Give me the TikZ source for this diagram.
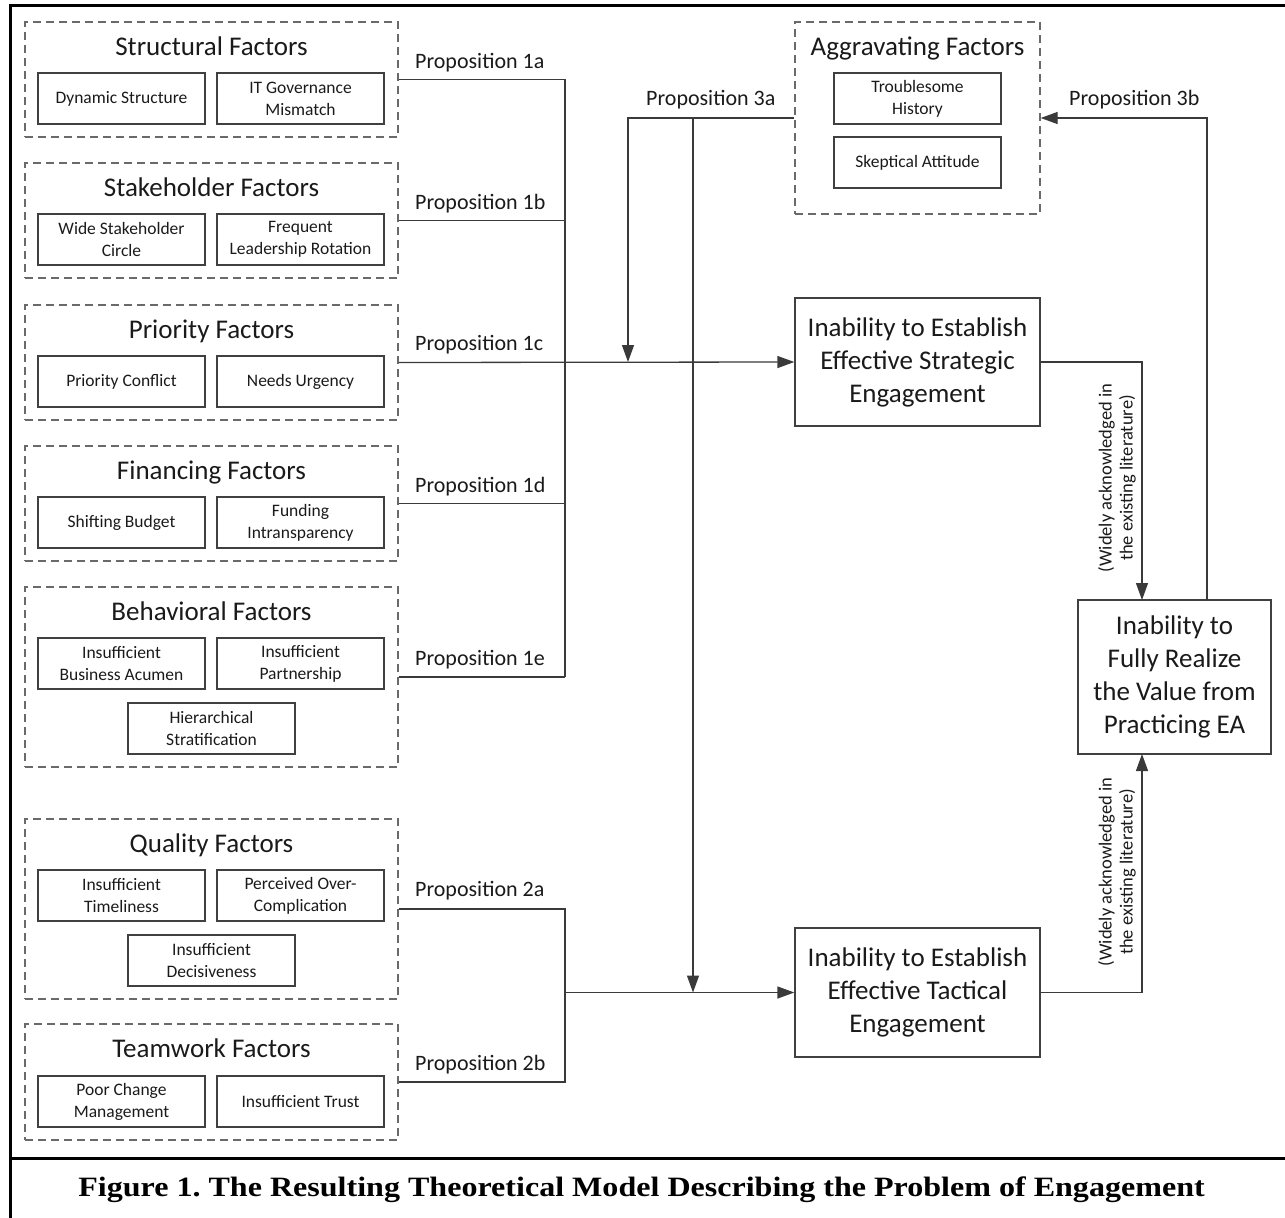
\documentclass[tikz,border=0pt]{standalone}
\usepackage{graphicx}
\usepackage{fontspec}
\setmainfont{Carlito}
\newfontfamily\capfont{Liberation Serif}
\usetikzlibrary{arrows.meta}
\definecolor{boxgray}{HTML}{404040}
\definecolor{dashgray}{HTML}{6A6A6A}
\definecolor{linegray}{HTML}{3A3A3A}
\definecolor{txt}{HTML}{1A1A1A}
\frenchspacing
\begin{document}
\begin{tikzpicture}[x=1pt,y=-1pt,
  text=txt,
  grp/.style={draw=dashgray, line width=1.3pt, dash pattern=on 8pt off 5pt, minimum width=373pt, inner sep=0pt},
  agrp/.style={grp, minimum width=245pt},
  ibox/.style={draw=boxgray, line width=1.3pt, minimum width=167pt, minimum height=51pt, align=center, inner sep=0pt, font=\fontsize{17.5}{22}\selectfont},
  gtitle/.style={anchor=base, inner sep=0pt, font=\fontsize{27}{32}\selectfont},
  prop/.style={anchor=base west, inner sep=0pt, font=\fontsize{22}{26}\selectfont},
  bigbox/.style={draw=boxgray, line width=1.3pt, align=center, inner sep=0pt, font=\fontsize{27}{33}\selectfont},
  conn/.style={draw=linegray, line width=1.3pt},
  arr/.style={conn, -{Triangle[length=17pt,width=12pt]}},
  rlabel/.style={rotate=90, align=center, inner sep=0pt, font=\fontsize{18.5}{21}\selectfont}
]
\useasboundingbox (0,0) rectangle (1285,1218);
% frame
\draw[line width=3pt,black] (10,1218) -- (10,5) -- (1285,5);
\draw[line width=3pt,black] (10,1158) -- (1285,1158);

% Structural
\node[grp, minimum height=115pt] (S) at (211.5,79.5) {};
\node[gtitle] (St) at (211.5,55) {Structural Factors};
\node[ibox] (S1) at (121.5,98.5) {Dynamic Structure};
\node[ibox] (S2) at (300.5,98.5) {IT Governance\\Mismatch};
% Stakeholder
\node[grp, minimum height=115pt] (K) at (211.5,220.5) {};
\node[gtitle] (Kt) at (211.5,196) {Stakeholder Factors};
\node[ibox] (K1) at (121.5,239.5) {Wide Stakeholder\\Circle};
\node[ibox] (K2) at (300.5,239.5) {Frequent\\Leadership Rotation};
% Priority
\node[grp, minimum height=115pt] (P) at (211.5,362.5) {};
\node[gtitle] (Pt) at (211.5,338) {Priority Factors};
\node[ibox] (P1) at (121.5,381.5) {Priority Conflict};
\node[ibox] (P2) at (300.5,381.5) {Needs Urgency};
% Financing
\node[grp, minimum height=115pt] (F) at (211.5,503.5) {};
\node[gtitle] (Ft) at (211.5,479) {Financing Factors};
\node[ibox] (F1) at (121.5,522.5) {Shifting Budget};
\node[ibox] (F2) at (300.5,522.5) {Funding\\Intransparency};
% Behavioral
\node[grp, minimum height=180pt] (B) at (211.5,677) {};
\node[gtitle] (Bt) at (211.5,620) {Behavioral Factors};
\node[ibox] (B1) at (121.5,663.5) {Insufficient\\Business Acumen};
\node[ibox] (B2) at (300.5,663.5) {Insufficient\\Partnership};
\node[ibox] (B3) at (211.5,728.5) {Hierarchical\\Stratification};
% Quality
\node[grp, minimum height=180pt] (Q) at (211.5,909) {};
\node[gtitle] (Qt) at (211.5,852) {Quality Factors};
\node[ibox] (Q1) at (121.5,895.5) {Insufficient\\Timeliness};
\node[ibox] (Q2) at (300.5,895.5) {Perceived Over-\\Complication};
\node[ibox] (Q3) at (211.5,960.5) {Insufficient\\Decisiveness};
% Teamwork
\node[grp, minimum height=116pt] (T) at (211.5,1082) {};
\node[gtitle] (Tt) at (211.5,1057) {Teamwork Factors};
\node[ibox] (T1) at (121.5,1101.5) {Poor Change\\Management};
\node[ibox] (T2) at (300.5,1101.5) {Insufficient Trust};

% Aggravating
\node[agrp, minimum height=192pt] (A) at (917.5,118) {};
\node[gtitle] (At) at (917.5,55) {Aggravating Factors};
\node[ibox] (A1) at (917.5,98.5) {Troublesome\\History};
\node[ibox] (A2) at (917.5,162.5) {Skeptical Attitude};

% outcome boxes
\node[bigbox, minimum width=245pt, minimum height=128pt] (strat) at (917.5,362) {Inability to Establish\\Effective Strategic\\Engagement};
\node[bigbox, minimum width=245pt, minimum height=129pt] (tact) at (917.5,992.5) {Inability to Establish\\Effective Tactical\\Engagement};
\node[bigbox, minimum width=193pt, minimum height=154pt] (val) at (1174.5,677) {Inability to\\Fully Realize\\the Value from\\Practicing EA};

% junction coordinates
\coordinate (J1) at (565,677);
\coordinate (J2a) at (565,908);
\coordinate (J2b) at (565,1082);
\coordinate (J2m) at (565,992.5);
\coordinate (M3a) at (628,362);
\coordinate (B3a) at (693,118);
\coordinate (M3b) at (693,992.5);
\coordinate (V3b) at (1207,600);
\coordinate (Vs) at (1142,600);
\coordinate (Vt) at (1142,754);

% propositions 1
\draw[conn] (S.east) -| (J1);
\draw[conn] (K.east) -- (K.east -| J1);
\draw[conn] (F.east) -- (F.east -| J1);
\draw[conn] (B.east) -- (J1);
\draw[arr] (P.east) -- (strat.west);
% propositions 2
\draw[conn] (Q.east) -| (J2b) -- (T.east);
\draw[arr] (J2m) -- (tact.west);
% proposition 3a
\draw[arr] (A.west) -| (M3a);
\draw[arr] (B3a) -- (M3b);
% proposition 3b
\draw[arr] (V3b) |- (A.east);
% to value
\draw[arr] (strat.east) -| (Vs);
\draw[arr] (tact.east) -| (Vt);

% labels
\node[prop] (L1a) at (415,68) {Proposition 1a};
\node[prop] (L1b) at (415,209) {Proposition 1b};
\node[prop] (L1c) at (415,350) {Proposition 1c};
\node[prop] (L1d) at (415,492) {Proposition 1d};
\node[prop] (L1e) at (415,665) {Proposition 1e};
\node[prop] (L2a) at (415,896) {Proposition 2a};
\node[prop] (L2b) at (415,1070) {Proposition 2b};
\node[prop] (L3a) at (646,105) {Proposition 3a};
\node[prop] (L3b) at (1069,105) {Proposition 3b};

\node[rlabel] (W1) at (1117,478) {(Widely acknowledged in\\the existing literature)};
\node[rlabel] (W2) at (1117,872) {(Widely acknowledged in\\the existing literature)};

% caption
\node[inner sep=0pt, font=\capfont\bfseries\fontsize{28}{32}\selectfont, text=black] (cap) at (641.5,1190) {\scalebox{1.145}[1]{Figure 1. The Resulting Theoretical Model Describing the Problem of Engagement}};
\end{tikzpicture}
\end{document}
